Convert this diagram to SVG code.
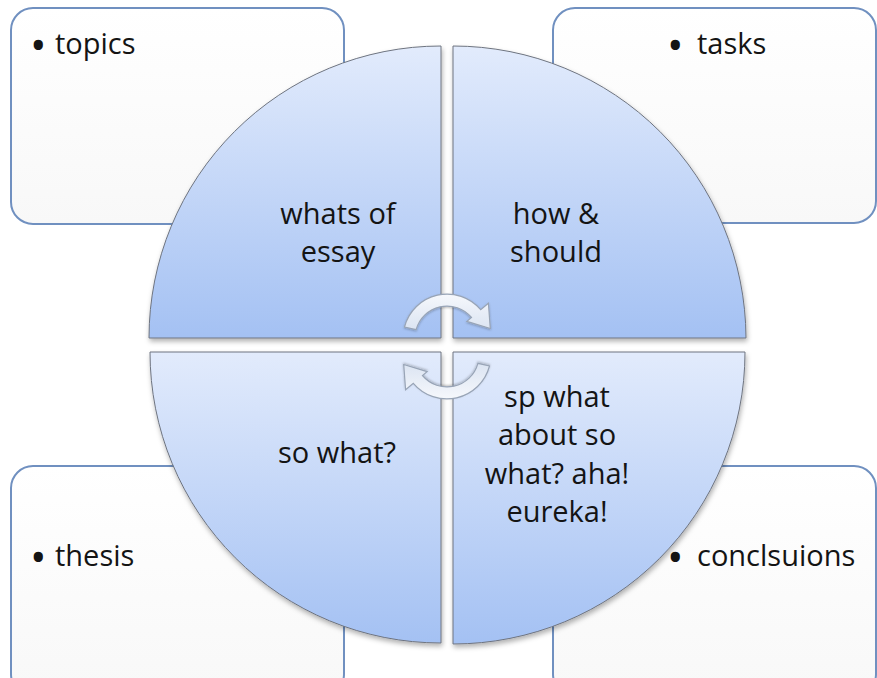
<svg xmlns="http://www.w3.org/2000/svg" width="877" height="678" viewBox="0 0 877 678">
<defs>
<linearGradient id="qg" x1="0" y1="0" x2="0" y2="1">
<stop offset="0" stop-color="#e2ebfc"/>
<stop offset="1" stop-color="#a4c1f3"/>
</linearGradient>
<linearGradient id="bg" x1="0" y1="0" x2="0" y2="1">
<stop offset="0" stop-color="#ffffff"/>
<stop offset="1" stop-color="#f8f8f8"/>
</linearGradient>
<linearGradient id="ag" x1="0" y1="0" x2="0" y2="1">
<stop offset="0" stop-color="#f6f8fc"/>
<stop offset="1" stop-color="#dbe4f2"/>
</linearGradient>
<filter id="sh" x="-10%" y="-10%" width="120%" height="120%">
<feDropShadow dx="1" dy="3" stdDeviation="2.5" flood-color="#000" flood-opacity="0.3"/>
</filter>
<filter id="ash" x="-20%" y="-20%" width="140%" height="140%">
<feDropShadow dx="0" dy="1" stdDeviation="1" flood-color="#000" flood-opacity="0.25"/>
</filter>
</defs>
<style>
.box{fill:url(#bg);stroke:#7090c0;stroke-width:2}
.q{fill:url(#qg);stroke:#6e7480;stroke-width:1;filter:url(#sh)}
.arr{fill:url(#ag);stroke:#98a4b6;stroke-width:1.2;filter:url(#ash)}
text{font-family:"Open Sans","Noto Sans","Liberation Sans",sans-serif;font-size:29px;fill:#141414}
.b{font-size:44px}
.c{text-anchor:middle}
</style>
<rect width="877" height="678" fill="#ffffff"/>
<g id="box-topics">
<rect class="box" x="11" y="8" width="333" height="216" rx="22"/>
<text><tspan class="b" x="30" y="61">•</tspan><tspan x="55" y="54">topics</tspan></text>
</g>
<g id="box-tasks">
<rect class="box" x="553" y="8" width="323" height="215" rx="22"/>
<text><tspan class="b" x="667" y="61">•</tspan><tspan x="697" y="54">tasks</tspan></text>
</g>
<g id="box-thesis">
<rect class="box" x="11" y="466" width="333" height="230" rx="22"/>
<text><tspan class="b" x="30" y="573">•</tspan><tspan x="55" y="566">thesis</tspan></text>
</g>
<g id="box-conclusions">
<rect class="box" x="553" y="466" width="323" height="230" rx="22"/>
<text><tspan class="b" x="667" y="573">•</tspan><tspan x="697" y="566">conclsuions</tspan></text>
</g>
<g id="q-whats">
<path class="q" d="M441,338 L149,338 A292,292 0 0 1 441,46 Z"/>
<text class="c" x="338" y="224">whats of</text>
<text class="c" x="338" y="262">essay</text>
</g>
<g id="q-how">
<path class="q" d="M453,338 L453,46 A293,293 0 0 1 746,338 Z"/>
<text class="c" x="556" y="224">how &amp;</text>
<text class="c" x="556" y="262">should</text>
</g>
<g id="q-sowhat">
<path class="q" d="M441,352 L441,643 A291,291 0 0 1 150,352 Z"/>
<text class="c" x="337" y="463">so what?</text>
</g>
<g id="q-eureka">
<path class="q" d="M453,352 L745,352 A292,292 0 0 1 453,644 Z"/>
<text class="c" x="557" y="407">sp what</text>
<text class="c" x="557" y="445">about so</text>
<text class="c" x="557" y="484">what? aha!</text>
<text class="c" x="557" y="522">eureka!</text>
</g>
<g id="connectors">
<path class="arr" d="M404.5,327 A44,44 0 0 1 480.7,309.7 L488.4,303.2 L490.3,328.5 L466.9,321.4 L471.5,317.5 A32,32 0 0 0 416.1,329.7 Z"/>
<path class="arr" transform="rotate(180 447 346.5)" d="M404.5,327 A44,44 0 0 1 480.7,309.7 L488.4,303.2 L490.3,328.5 L466.9,321.4 L471.5,317.5 A32,32 0 0 0 416.1,329.7 Z"/>
</g>
</svg>
